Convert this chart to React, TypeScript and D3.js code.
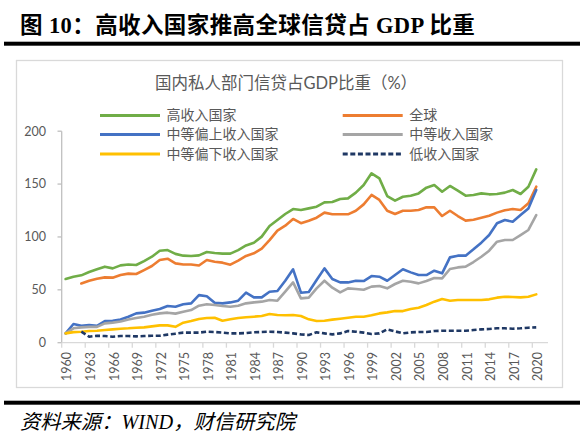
import React from "react";
import * as d3 from "d3";

const years: number[] = d3.range(1960, 2022); // 1960..2021 (2021 empty category)
const xTickLabels: number[] = d3.range(1960, 2021, 3);
const yTicks: number[] = [0, 50, 100, 150, 200];

const highIncome: (number | null)[] = [
  60.2, 62.4, 63.7, 66.8, 69.4, 71.9, 70.3, 73.1, 74, 73.5,
  77.2, 81.3, 87, 87.6, 84, 82.3, 82, 82.6, 85.8, 84.8,
  84.2, 84.2, 87.6, 92, 94.6, 100.3, 110.3, 116, 121.7, 126.4,
  125.5, 127, 128.6, 132.7, 133, 135.9, 136.5, 141.9, 149.1, 160.2,
  155.4, 138.7, 134.3, 138, 139, 141.2, 146.6, 149.1, 142.8, 148.2,
  143.8, 139, 139.7, 141.2, 140.3, 140.6, 141.9, 144.4, 140.6, 147.5,
  163.9, null,
];
const world: (number | null)[] = [
  null, null, 56, 58.6, 60.5, 61.8, 61.5, 64, 65.3, 65,
  68.7, 72.5, 78.2, 79.4, 75, 74, 74, 73, 78.2, 76.6,
  75.7, 73.8, 77.6, 82, 84.5, 88.9, 97, 106, 110.7, 117,
  113, 115.4, 118.2, 123, 121.4, 121.4, 121.4, 124.8, 130.8, 139.7,
  135, 124.8, 121.7, 124.8, 124.8, 125.5, 128, 128, 119.8, 124.8,
  119.8, 115.4, 116.3, 118.2, 120.1, 123, 125.2, 126.4, 125.5, 131.8,
  147.5, null,
];
const upperMiddle: (number | null)[] = [
  8.8, 17.7, 16, 16.7, 16, 20.5, 20.8, 22, 24.6, 27.7,
  28.4, 30.3, 31.8, 34.7, 34, 36.3, 37.2, 45, 44, 37.8,
  37.2, 38.1, 39.7, 47.3, 42.9, 42.9, 48.2, 48.9, 58.6, 69.4,
  47.3, 47.9, 59.3, 70.3, 60.2, 57, 57, 58.6, 58.3, 63,
  62.4, 58.6, 64, 69.4, 66.5, 64, 64, 68.1, 65.6, 80.7,
  82.3, 82.3, 88.3, 94.6, 101.8, 112.9, 116, 114.4, 120.7, 127,
  144.4, null,
];
const middle: (number | null)[] = [
  8.8, 13.6, 14.5, 15, 15, 18.3, 19, 20, 22, 23.3,
  24.6, 26.5, 27.7, 28.4, 27.5, 29.3, 30.9, 35, 36.3, 35.6,
  34.7, 34, 35, 37.2, 38.1, 38.8, 40.4, 39.7, 48.2, 57,
  41.9, 42.6, 51.4, 58.6, 52, 47.6, 51.4, 50.8, 50.1, 53,
  53.6, 51.4, 55.5, 58.6, 57.7, 56.1, 58.3, 61.2, 60.8, 69.7,
  71.2, 71.9, 76.3, 81.3, 87, 95.5, 97.1, 97.1, 101.8, 106.6,
  120.7, null,
];
const lowerMiddle: (number | null)[] = [
  8.8, 10, 10.4, 11, 11.3, 12, 12.6, 13.2, 13.6, 14.2,
  14.5, 15.4, 16.4, 16.4, 15, 18.9, 20.5, 22.4, 23.3, 23.6,
  20.8, 22.1, 23.3, 24, 24.6, 25.2, 27.1, 26.2, 25.9, 26.2,
  25.2, 22.1, 20.5, 20.8, 21.8, 22.7, 23.6, 24.6, 24.6, 25.9,
  27.7, 28.7, 29.9, 29.9, 31.8, 33.1, 35.6, 38.8, 41.3, 39.7,
  40.4, 40.4, 40.4, 40.4, 41, 42.6, 43.5, 43.2, 42.9, 43.5,
  45.7, null,
];
const lowIncome: (number | null)[] = [
  null, null, 10.4, 5.7, 6.6, 6.3, 5.7, 6.3, 6.3, 6,
  6.3, 6.6, 6.6, 7.6, 8.5, 9.5, 9.5, 9.5, 10.4, 10.1,
  9.5, 8.8, 8.8, 9.1, 9.8, 10.1, 10.4, 10.1, 9.5, 8.8,
  7.9, 7.3, 9.8, 8.8, 7.9, 8.8, 11, 10.4, 9.5, 8.2,
  8.8, 12.6, 10.7, 8.8, 9.8, 10.1, 10.1, 11, 11.3, 11.3,
  11.3, 11.3, 12, 12.6, 12.9, 13.6, 13.6, 13.2, 13.6, 14.2,
  14.5, null,
];

const seriesNames = ["高收入国家", "全球", "中等偏上收入国家", "中等收入国家", "中等偏下收入国家", "低收入国家"];
const seriesColors = ["#70AD47", "#ED7D31", "#4472C4", "#A5A5A5", "#FFC000", "#1F3864"];
const seriesData = [highIncome, world, upperMiddle, middle, lowerMiddle, lowIncome];

const FONT = "Lato, 'Noto Sans CJK SC', sans-serif";

export default function App() {
  const W = 586, H = 438;
  const x = d3.scaleBand<number>().domain(years).range([61.7, 548]).paddingInner(0).paddingOuter(0);
  const bw = x.bandwidth();
  const cx = (yr: number) => (x(yr) as number) + bw / 2;
  const y = d3.scaleLinear().domain([0, 200]).range([342.7, 131.2]);

  const line = d3
    .line<number | null>()
    .defined((d) => d != null)
    .x((_, i) => cx(years[i]))
    .y((d) => y(d as number));

  const legendPos = [
    { lx: 100, tx: 166.5, ty: 115.5 },
    { lx: 342.7, tx: 409.3, ty: 115.5 },
    { lx: 100, tx: 166.5, ty: 134.5 },
    { lx: 342.7, tx: 409.3, ty: 134.5 },
    { lx: 100, tx: 166.5, ty: 154 },
    { lx: 342.7, tx: 409.3, ty: 154 },
  ];

  const tickYears = d3.range(0, 63, 3).map((k) => 61.7 + k * bw);

  return (
    <svg width={W} height={H} style={{ position: "absolute", left: 0, top: 0, background: "#fff" }}>
      <rect x={0} y={0} width={W} height={H} fill="#fff" />
      {/* Title */}
      <text x={20} y={33} fontFamily="'Liberation Serif', 'Noto Sans CJK SC', serif" fontWeight="bold" fontSize={22.5} letterSpacing={0.4} fill="#000">
        图 10：高收入国家推高全球信贷占 GDP 比重
      </text>
      <rect x={4} y={41.7} width={576} height={4} fill="#000" />

      {/* chart frame */}
      <rect x={16.5} y={60.5} width={546} height={327} fill="#fff" stroke="#D9D9D9" strokeWidth={1.3} />
      <text x={286} y={89} textAnchor="middle" fontFamily={FONT} fontSize={16.5} fill="#595959">
        国内私人部门信贷占GDP比重（%）
      </text>

      {/* legend */}
      {seriesNames.map((n, i) => {
        const p = legendPos[i];
        return (
          <g key={n}>
            <line
              x1={p.lx}
              x2={p.lx + 60}
              y1={p.ty}
              y2={p.ty}
              stroke={seriesColors[i]}
              strokeWidth={3}
              strokeDasharray={i === 5 ? "5,2.6" : undefined}
            />
            <text x={p.tx} y={p.ty} dy="0.35em" fontFamily={FONT} fontSize={14} fill="#595959">
              {n}
            </text>
          </g>
        );
      })}

      {/* y axis */}
      <line x1={61.7} x2={61.7} y1={y(200)} y2={y(0)} stroke="#BFBFBF" strokeWidth={1.3} />
      {yTicks.map((t) => (
        <g key={t}>
          <line x1={57.5} x2={61.7} y1={y(t)} y2={y(t)} stroke="#BFBFBF" strokeWidth={1.3} />
          <text x={46} y={y(t)} dy="0.35em" textAnchor="end" fontFamily={FONT} fontSize={12.5} fill="#595959">
            {t}
          </text>
        </g>
      ))}

      {/* x axis */}
      <line x1={61.7} x2={548} y1={y(0)} y2={y(0)} stroke="#D9D9D9" strokeWidth={1.3} />
      {tickYears.map((tx, i) => (
        <line key={i} x1={tx} x2={tx} y1={y(0)} y2={y(0) + 5} stroke="#D9D9D9" strokeWidth={1.3} />
      ))}
      {xTickLabels.map((yr) => (
        <text
          key={yr}
          transform={`translate(${cx(yr) + 1.5},${352}) rotate(-90)`}
          dy="0.35em"
          textAnchor="end"
          fontFamily={FONT}
          fontSize={12.5}
          fill="#595959"
        >
          {yr}
        </text>
      ))}

      {/* lines */}
      {seriesData.map((d, i) => (
        <path
          key={i}
          d={line(d) || ""}
          fill="none"
          stroke={seriesColors[i]}
          strokeWidth={2.6}
          strokeLinejoin="round"
          strokeLinecap={i === 5 ? "butt" : "round"}
          strokeDasharray={i === 5 ? "5,2.6" : undefined}
        />
      ))}

      {/* bottom rule and source */}
      <rect x={4} y={400.7} width={576} height={4} fill="#000" />
      <text x={20} y={428.5} fontFamily="'Liberation Serif', 'Noto Sans CJK SC', serif" fontStyle="italic" fontSize={20.3} fill="#000">
        资料来源：WIND，财信研究院
      </text>
    </svg>
  );
}
